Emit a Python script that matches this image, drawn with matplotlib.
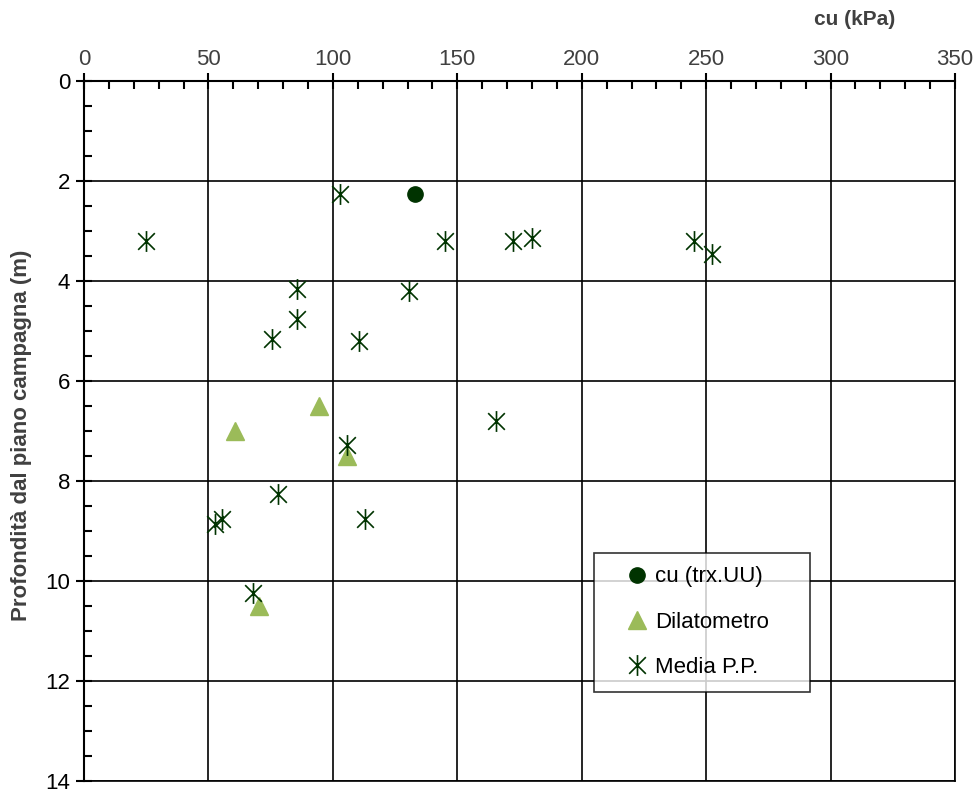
import numpy as np
import matplotlib.pyplot as plt
from matplotlib.path import Path
from matplotlib.ticker import MultipleLocator

plt.rcParams['font.family'] = ['Liberation Sans', 'DejaVu Sans']

# cu (trx.UU)
trx_cu = [133]
trx_z = [2.25]

# Dilatometro
dil_cu = [60.5, 94.5, 105.5, 70.5]
dil_z = [7.0, 6.5, 7.5, 10.5]

# Media P.P.
pp_cu = [25, 103, 145, 172.5, 180, 245, 252.5, 85.5, 130.5, 85.5, 75.5, 110.5,
         165.5, 105.5, 78, 52.8, 55.5, 112.8, 68]
pp_z = [3.2, 2.25, 3.2, 3.2, 3.13, 3.2, 3.45, 4.15, 4.2, 4.75, 5.15, 5.2,
        6.8, 7.27, 8.25, 8.85, 8.75, 8.75, 10.25]

# asterisk marker: X plus a vertical bar
star = Path([(-1, -1), (1, 1), (-1, 1), (1, -1), (0, -1.25), (0, 1.25)],
            [Path.MOVETO, Path.LINETO, Path.MOVETO, Path.LINETO, Path.MOVETO, Path.LINETO])

dark = '#003300'
light = '#9BBB59'

fig = plt.figure(figsize=(9.77, 7.92), dpi=100)
ax = fig.add_axes([0.086, 0.0139, 0.8915, 0.8838])

ax.plot(trx_cu, trx_z, 'o', color=dark, ms=11, label='cu (trx.UU)', zorder=3)
ax.plot(dil_cu, dil_z, '^', color=light, ms=13, mec=light, label='Dilatometro', zorder=3)
ax.plot(pp_cu, pp_z, ls='none', marker=star, ms=15, mfc='none', mec=dark, mew=1.2,
        label='Media P.P.', zorder=4)

ax.set_xlim(0, 350)
ax.set_ylim(14, 0)
ax.xaxis.set_major_locator(MultipleLocator(50))
ax.xaxis.set_minor_locator(MultipleLocator(10))
ax.yaxis.set_major_locator(MultipleLocator(2))
ax.yaxis.set_minor_locator(MultipleLocator(0.5))
ax.xaxis.tick_top()
ax.grid(True, which='major', color='black', lw=1.2)

for side in ['right', 'bottom']:
    ax.spines[side].set_linewidth(1.2)
ax.spines['top'].set_linewidth(1.5)
ax.spines['left'].set_linewidth(1.5)

ax.tick_params(axis='both', which='major', direction='inout', length=12, width=1.5)
ax.tick_params(axis='both', which='minor', direction='in', length=6, width=1.5)
ax.tick_params(axis='x', which='major', labelsize=16, labelcolor='#404040', pad=2)
ax.tick_params(axis='y', which='major', labelsize=16, labelcolor='black', pad=4)

fig.text(0.875, 0.975, 'cu (kPa)', fontsize=15, fontweight='bold', color='#404040',
         ha='center', va='center')
fig.text(0.022, 0.45, 'Profondità dal piano campagna (m)', fontsize=16, fontweight='bold',
         color='#404040', rotation=90, ha='center', va='center')

leg_w = 0.248
leg = ax.legend(loc='upper left', bbox_to_anchor=(0.5855, 0.1257, leg_w, 0.2), mode='expand',
                fontsize=16, frameon=True, fancybox=False, edgecolor='black',
                handlelength=2.7, handletextpad=-0.55, labelspacing=1.1,
                borderpad=0.6, borderaxespad=0)
leg.get_frame().set_linewidth(1.2)

fig.savefig('out.png', dpi=100)
